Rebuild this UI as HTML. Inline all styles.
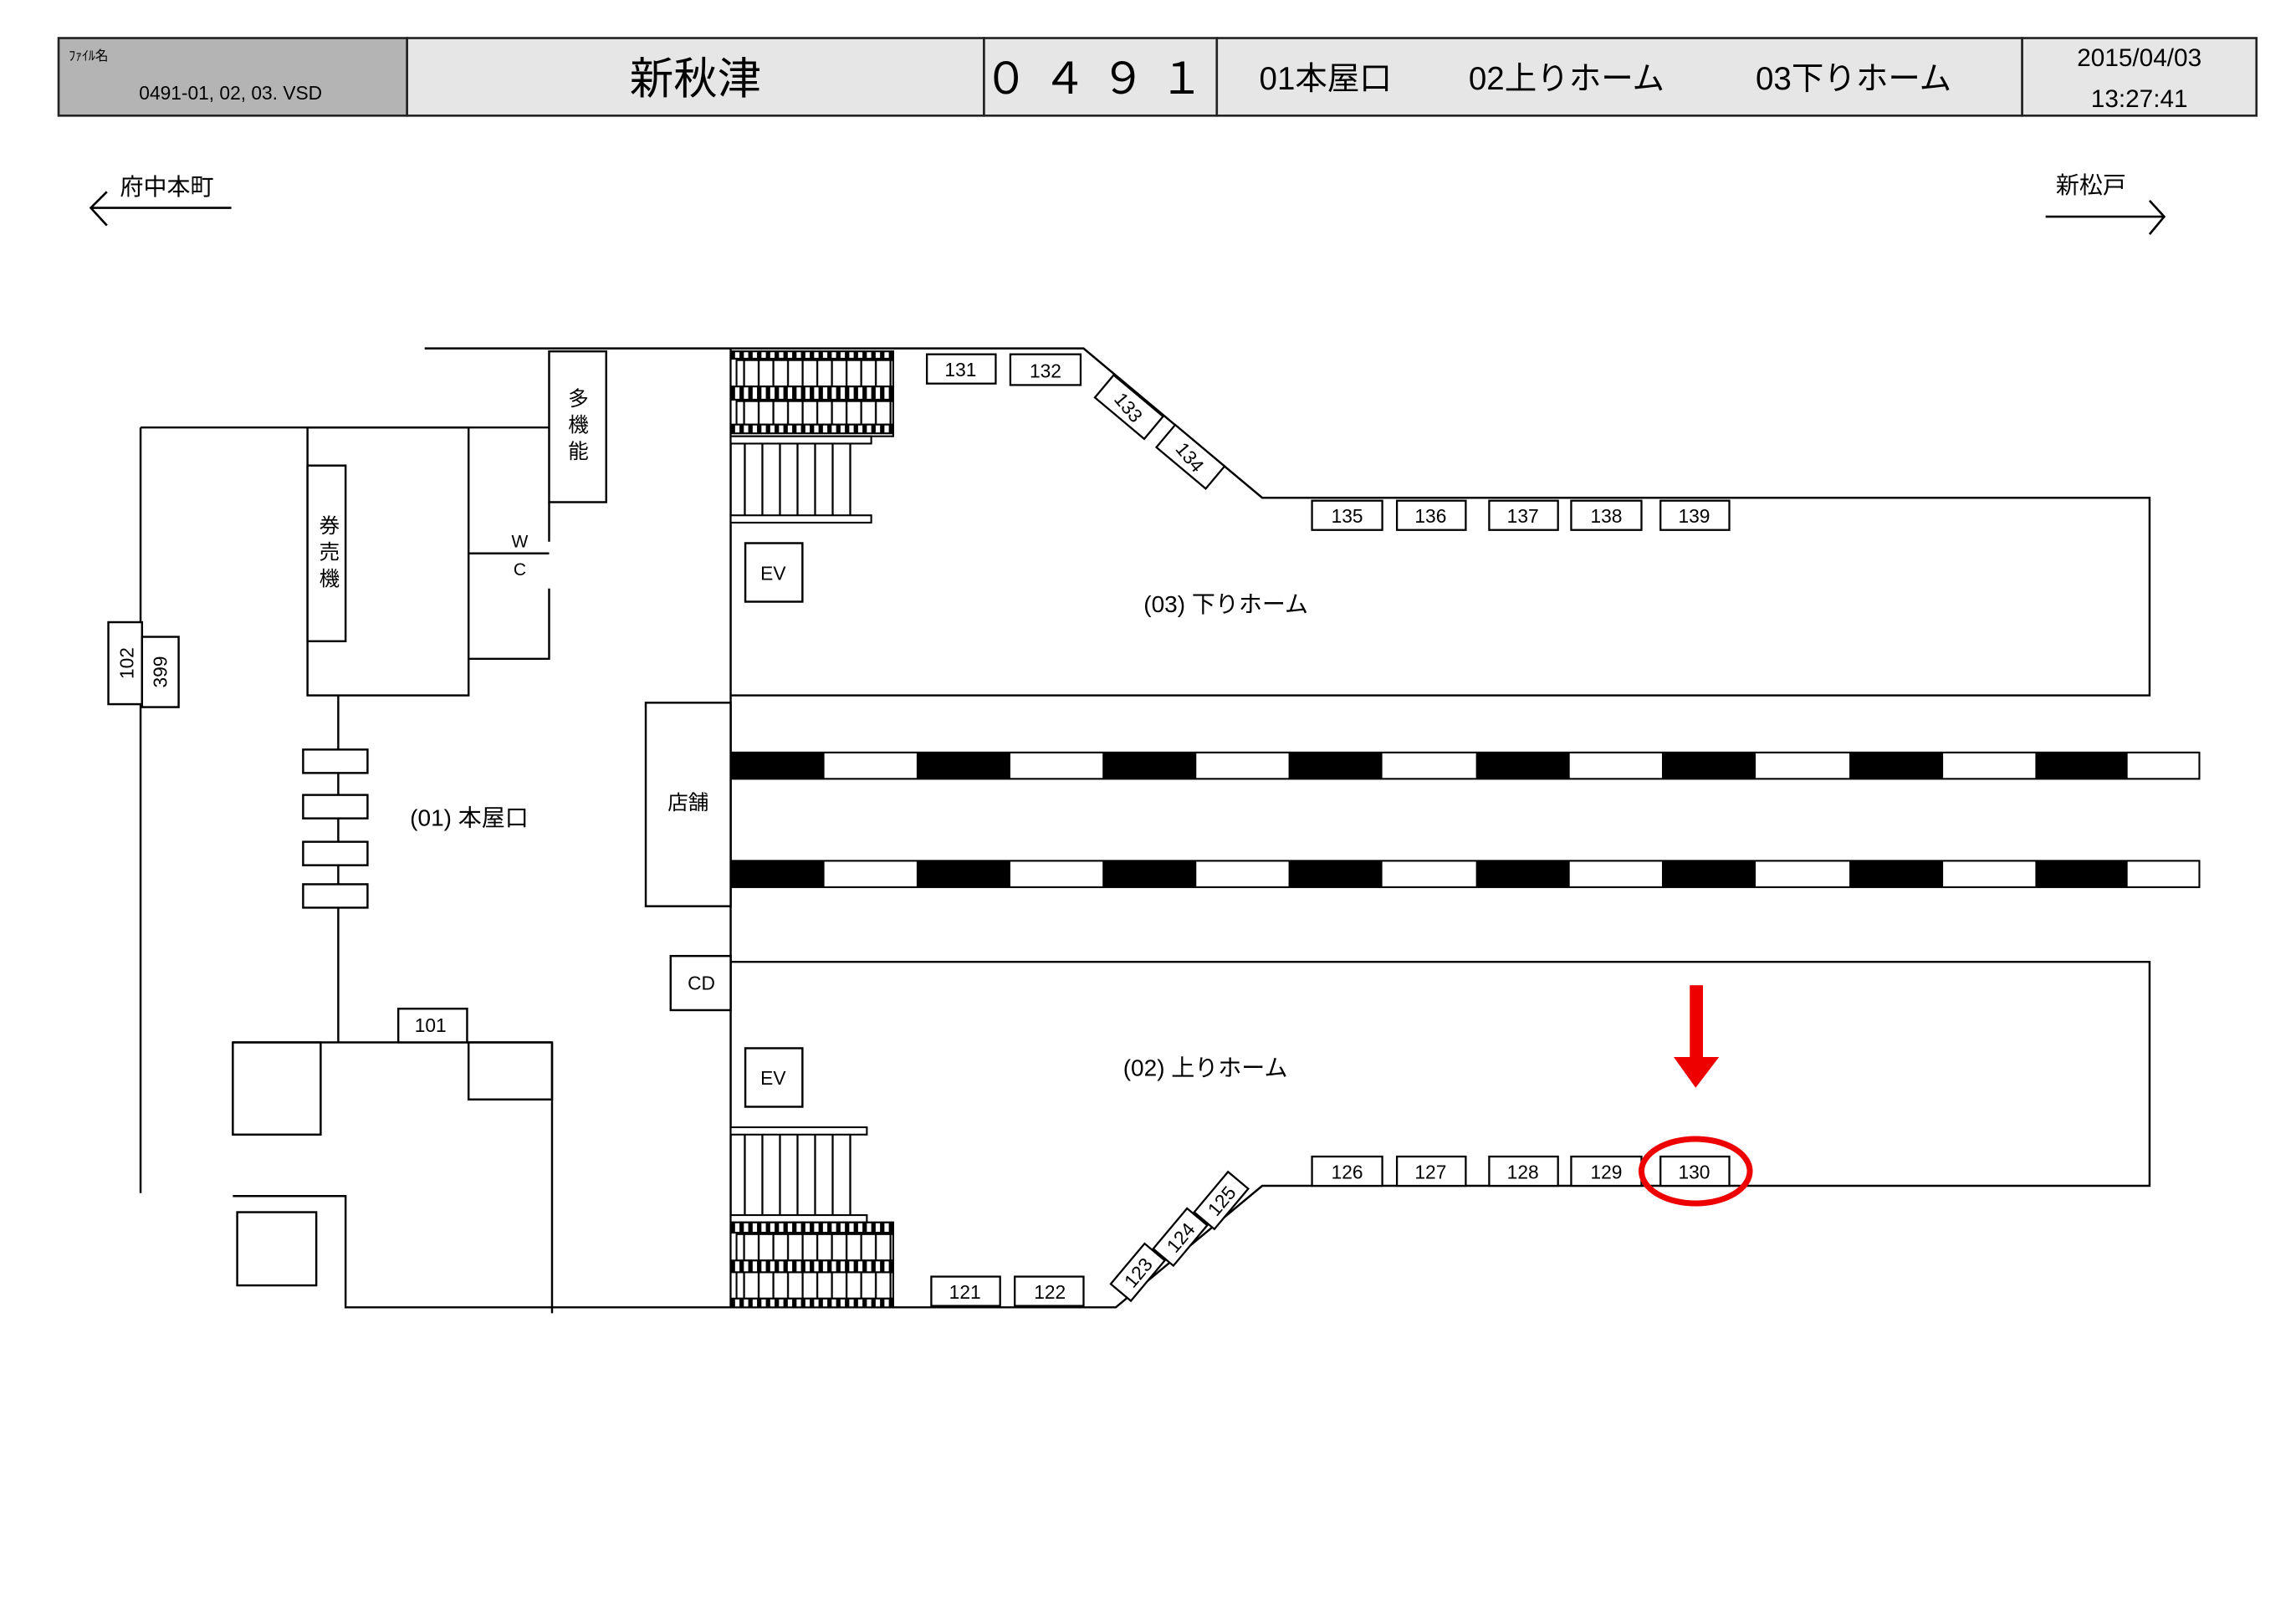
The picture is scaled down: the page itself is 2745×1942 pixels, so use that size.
<!DOCTYPE html>
<html><head><meta charset="utf-8"><style>
html,body{margin:0;padding:0;background:#fff}
svg{display:block}
text{font-family:"Liberation Sans","Noto Sans CJK JP",sans-serif;fill:#000}
</style></head><body>
<svg width="2745" height="1942" viewBox="0 0 1568 1109.3" preserveAspectRatio="none" xmlns="http://www.w3.org/2000/svg">
<defs>
<pattern id="vl" x="499" y="0" width="10" height="10" patternUnits="userSpaceOnUse"><rect width="10" height="10" fill="#fff"/><rect x="8.5" width="1.3" height="10" fill="#000"/></pattern>
<pattern id="dash" x="499" y="0" width="6" height="10" patternUnits="userSpaceOnUse"><rect width="6" height="10" fill="#fff"/><rect width="3" height="10" fill="#000"/></pattern>
<pattern id="st" x="499" y="0" width="12" height="10" patternUnits="userSpaceOnUse"><rect x="9" width="1.3" height="10" fill="#000"/></pattern>
</defs>
<g stroke="#222" stroke-width="1.5">
<rect x="40" y="26" width="238" height="53" fill="#b4b4b4"/>
<rect x="278" y="26" width="394" height="53" fill="#e6e6e6"/>
<rect x="672" y="26" width="159" height="53" fill="#e6e6e6"/>
<rect x="831" y="26" width="550" height="53" fill="#e6e6e6"/>
<rect x="1381" y="26" width="160" height="53" fill="#e6e6e6"/>
</g>
<text x="47" y="41" font-size="9">ﾌｧｲﾙ名</text>
<text x="95" y="68" font-size="13">0491-01, 02, 03. VSD</text>
<text x="475" y="64" font-size="30" text-anchor="middle">新秋津</text>
<text x="752" y="64" font-size="30" text-anchor="middle" letter-spacing="10">０４９１</text>
<text x="860" y="61" font-size="22">01本屋口</text>
<text x="1003" y="61" font-size="22">02上りホーム</text>
<text x="1199" y="61" font-size="22">03下りホーム</text>
<text x="1461" y="45" font-size="17" text-anchor="middle">2015/04/03</text>
<text x="1461" y="73" font-size="17" text-anchor="middle">13:27:41</text>
<text x="82" y="133" font-size="16">府中本町</text>
<g stroke="#000" stroke-width="1.5" fill="none">
<line x1="62" y1="142" x2="158" y2="142"/><polyline points="73,131 62,142 73,154"/>
<line x1="1397" y1="148" x2="1478" y2="148"/><polyline points="1468,137 1478,148 1468,160"/>
</g>
<text x="1404" y="132" font-size="16">新松戸</text>
<g stroke="#000" stroke-width="1.4" fill="none">
<polyline points="290,238 740,238 862,340 1468,340 1468,475 499,475"/>
<polyline points="499,657 1468,657 1468,810 862,810 762,893 236,893 236,817 159,817"/>
<line x1="499" y1="238" x2="499" y2="893"/>
<line x1="96" y1="292" x2="375" y2="292"/>
<line x1="96" y1="292" x2="96" y2="815"/>
<rect x="210" y="292" width="110" height="183"/>
<rect x="210" y="318" width="26" height="120" fill="#fff"/>
<line x1="320" y1="378" x2="375" y2="378"/>
<polyline points="375,343 375,370"/>
<polyline points="375,402 375,450 320,450"/>
<rect x="375" y="240" width="39" height="103" fill="#fff"/>
<rect x="74" y="425" width="23" height="56" fill="#fff"/>
<rect x="97" y="435" width="25" height="48" fill="#fff"/>
<line x1="231" y1="475" x2="231" y2="712"/>
<rect x="207" y="512" width="44" height="16" fill="#fff"/>
<rect x="207" y="543" width="44" height="16" fill="#fff"/>
<rect x="207" y="575" width="44" height="16" fill="#fff"/>
<rect x="207" y="604" width="44" height="16" fill="#fff"/>
<line x1="159" y1="712" x2="377" y2="712"/>
<rect x="159" y="712" width="60" height="63"/>
<rect x="320" y="712" width="57" height="39"/>
<line x1="377" y1="712" x2="377" y2="897"/>
<rect x="272" y="689" width="47" height="23" fill="#fff"/>
<rect x="162" y="828" width="54" height="50"/>
<rect x="441" y="480" width="58" height="139" fill="#fff"/>
<rect x="458" y="653" width="41" height="37" fill="#fff"/>
<rect x="509" y="371" width="39" height="40" fill="#fff"/>
<rect x="509" y="716" width="39" height="40" fill="#fff"/>
</g>
<g stroke="#000" stroke-width="1.2">
<rect x="499" y="514" width="1003" height="18" fill="#fff"/>
<rect x="499" y="588" width="1003" height="18" fill="#fff"/>
</g>
<g fill="#000">
<rect x="499" y="514" width="64" height="18"/><rect x="626" y="514" width="64" height="18"/><rect x="753" y="514" width="64" height="18"/><rect x="880" y="514" width="64" height="18"/><rect x="1008" y="514" width="64" height="18"/><rect x="1135" y="514" width="64" height="18"/><rect x="1263" y="514" width="64" height="18"/><rect x="1390" y="514" width="63" height="18"/>
<rect x="499" y="588" width="64" height="18"/><rect x="626" y="588" width="64" height="18"/><rect x="753" y="588" width="64" height="18"/><rect x="880" y="588" width="64" height="18"/><rect x="1008" y="588" width="64" height="18"/><rect x="1135" y="588" width="64" height="18"/><rect x="1263" y="588" width="64" height="18"/><rect x="1390" y="588" width="63" height="18"/>
</g>
<g stroke="#000" stroke-width="1.2">
<rect x="499" y="240" width="111" height="58" fill="#fff"/>
<rect x="503" y="246" width="107" height="18" fill="url(#vl)"/>
<rect x="503" y="274" width="107" height="16" fill="url(#vl)"/>
<rect x="499" y="240" width="111" height="5" fill="url(#dash)"/>
<rect x="499" y="264" width="111" height="9" fill="url(#dash)"/>
<rect x="499" y="290" width="111" height="6" fill="url(#dash)"/>
<rect x="499" y="298" width="96" height="5" fill="#fff"/>
<rect x="499" y="352" width="96" height="5" fill="#fff"/>
<rect x="500" y="303" width="86" height="49" fill="url(#st)" stroke="none"/>
<rect x="499" y="770" width="93" height="5" fill="#fff"/>
<rect x="499" y="830" width="93" height="5" fill="#fff"/>
<rect x="500" y="775" width="84" height="55" fill="url(#st)" stroke="none"/>
<rect x="499" y="835" width="111" height="58" fill="#fff"/>
<rect x="503" y="843" width="107" height="18" fill="url(#vl)"/>
<rect x="503" y="869" width="107" height="18" fill="url(#vl)"/>
<rect x="499" y="835" width="111" height="7" fill="url(#dash)"/>
<rect x="499" y="861" width="111" height="8" fill="url(#dash)"/>
<rect x="499" y="887" width="111" height="6" fill="url(#dash)"/>
</g>
<g stroke="#000" stroke-width="1.3" fill="#fff">
<rect x="633" y="242" width="47" height="20"/><rect x="690" y="242" width="48" height="21"/>
<rect x="896" y="342" width="48" height="20"/><rect x="954" y="342" width="47" height="20"/><rect x="1017" y="342" width="47" height="20"/><rect x="1073" y="342" width="48" height="20"/><rect x="1134" y="342" width="47" height="20"/>
<rect x="896" y="790" width="48" height="20"/><rect x="954" y="790" width="47" height="20"/><rect x="1017" y="790" width="47" height="20"/><rect x="1073" y="790" width="48" height="20"/><rect x="1134" y="790" width="47" height="20"/>
<rect x="636" y="872" width="47" height="20"/><rect x="693" y="872" width="47" height="20"/>
<rect x="-22" y="-10" width="44" height="20" transform="translate(771,278) rotate(40)"/>
<rect x="-22" y="-10" width="44" height="20" transform="translate(813,312) rotate(40)"/>
<rect x="-18" y="-9" width="36" height="18" transform="translate(777,869) rotate(-50)"/>
<rect x="-18" y="-9" width="36" height="18" transform="translate(806,845) rotate(-50)"/>
<rect x="-18" y="-9" width="36" height="18" transform="translate(834,820) rotate(-50)"/>
</g>
<g font-size="13" text-anchor="middle">
<text x="656" y="257">131</text><text x="714" y="258">132</text>
<text x="920" y="357">135</text><text x="977" y="357">136</text><text x="1040" y="357">137</text><text x="1097" y="357">138</text><text x="1157" y="357">139</text>
<text x="920" y="805">126</text><text x="977" y="805">127</text><text x="1040" y="805">128</text><text x="1097" y="805">129</text><text x="1157" y="805">130</text>
<text x="659" y="887">121</text><text x="717" y="887">122</text>
<text x="294" y="705">101</text>
<text transform="translate(771,278) rotate(50)" y="5">133</text>
<text transform="translate(813,312) rotate(50)" y="5">134</text>
<text transform="translate(777,869) rotate(-50)" y="5">123</text>
<text transform="translate(806,845) rotate(-50)" y="5">124</text>
<text transform="translate(834,820) rotate(-50)" y="5">125</text>
<text transform="translate(86,453) rotate(-90)" y="5">102</text>
<text transform="translate(109,459) rotate(-90)" y="5">399</text>
<text x="528" y="396">EV</text><text x="528" y="741">EV</text><text x="479" y="676">CD</text>
<text x="355" y="374" font-size="12">W</text><text x="355" y="393" font-size="12">C</text>
</g>
<g font-size="14" text-anchor="middle">
<text x="395" y="277">多</text><text x="395" y="295">機</text><text x="395" y="313">能</text>
<text x="225" y="364">券</text><text x="225" y="382">売</text><text x="225" y="400">機</text>
<text x="470" y="553">店舗</text>
</g>
<g font-size="16">
<text x="781" y="418">(03) 下りホーム</text>
<text x="767" y="735">(02) 上りホーム</text>
<text x="280" y="564">(01) 本屋口</text>
</g>
<rect x="1154" y="673" width="9" height="50" fill="#e00"/>
<polygon points="1143,722 1174,722 1158,743" fill="#e00"/>
<ellipse cx="1158" cy="800" rx="37" ry="22" fill="none" stroke="#e00" stroke-width="4"/>
</svg>
</body></html>
